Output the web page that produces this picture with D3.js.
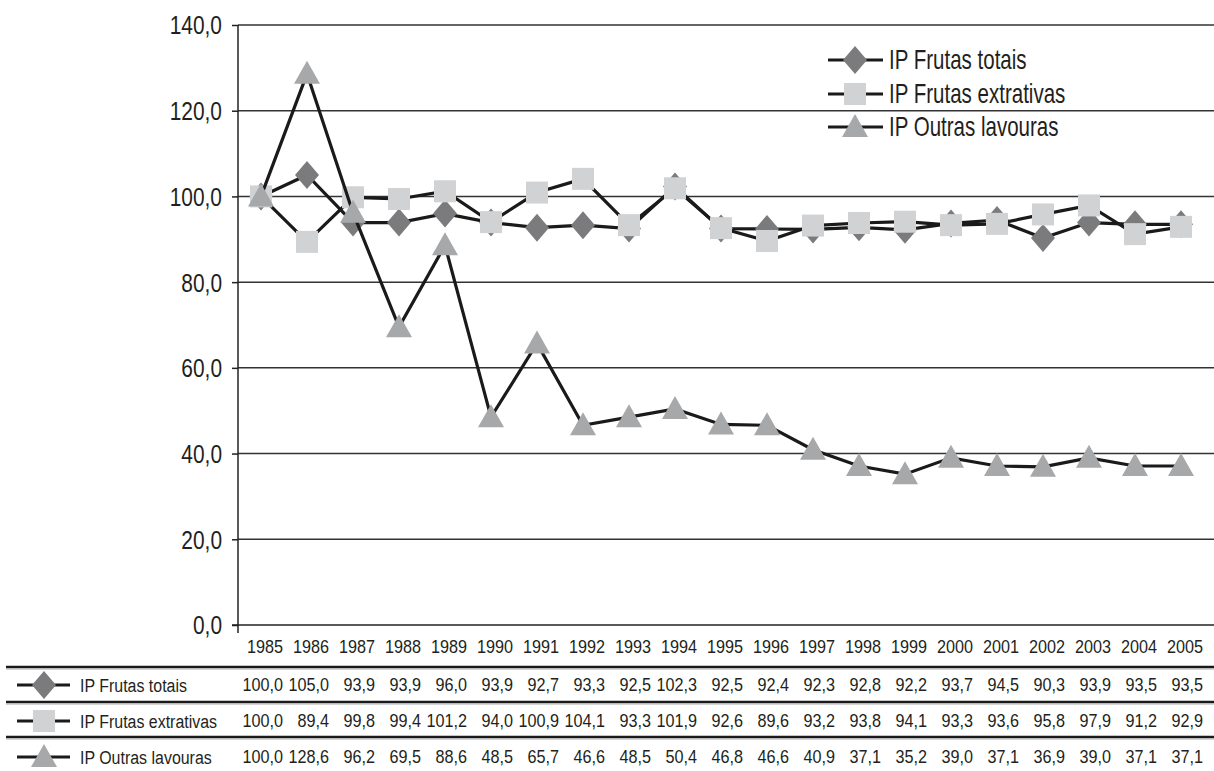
<!DOCTYPE html>
<html>
<head>
<meta charset="utf-8">
<script src="https://cdn.jsdelivr.net/npm/d3@7"></script>
<style>
  body { margin: 0; background: #fff; }
  svg text { font-family: "Liberation Sans", Arial, sans-serif; fill: #231f20; }
</style>
</head>
<body>
<div id="canvas"></div>
<script>
// data
var years = ['1985','1986','1987','1988','1989','1990','1991','1992','1993','1994','1995',
             '1996','1997','1998','1999','2000','2001','2002','2003','2004','2005'];
var frutasTotais = [100.0,105.0,93.9,93.9,96.0,93.9,92.7,93.3,92.5,102.3,92.5,92.4,92.3,92.8,92.2,93.7,94.5,90.3,93.9,93.5,93.5];
var frutasExtrativas = [100.0,89.4,99.8,99.4,101.2,94.0,100.9,104.1,93.3,101.9,92.6,89.6,93.2,93.8,94.1,93.3,93.6,95.8,97.9,91.2,92.9];
var outrasLavouras = [100.0,128.6,96.2,69.5,88.6,48.5,65.7,46.6,48.5,50.4,46.8,46.6,40.9,37.1,35.2,39.0,37.1,36.9,39.0,37.1,37.1];
var seriesNames = ['IP Frutas totais','IP Frutas extrativas','IP Outras lavouras'];
var yTicks = [0,20,40,60,80,100,120,140];

var series = [
  {name: seriesNames[0], values: frutasTotais, shape: 'diamond', color: '#7b7b7d'},
  {name: seriesNames[1], values: frutasExtrativas, shape: 'square', color: '#d1d2d4'},
  {name: seriesNames[2], values: outrasLavouras, shape: 'triangle', color: '#a7a8aa'}
];

var W = 1214, H = 771;
var m = {t:25, l:238, r:10, b:146};

var svg = d3.select('#canvas').append('svg')
    .attr('width', W).attr('height', H);

var x = d3.scaleBand().domain(years).range([m.l, W - m.r]).padding(0);
var y = d3.scaleLinear().domain([0,140]).range([H - m.b, m.t]);

var fmt = function(v){ return d3.format('.1f')(v).replace('.', ','); };

// condensed text helper (squeezed horizontally by k)
function label(g, tx, ty, str, size, k, anchor){
  return g.append('text')
    .attr('transform', 'translate(' + tx + ',' + ty + ') scale(' + k + ',1)')
    .attr('dy', '0.35em')
    .attr('text-anchor', anchor || 'start')
    .attr('font-size', size)
    .text(str);
}

// gridlines
svg.append('g').selectAll('line').data(yTicks.filter(function(d){return d>0;}))
  .enter().append('line')
  .attr('x1', m.l).attr('x2', W)
  .attr('y1', function(d){return y(d);}).attr('y2', function(d){return y(d);})
  .attr('stroke', '#333').attr('stroke-width', 1.5);

// y axis
var axisY = d3.axisLeft(y).tickValues(yTicks).tickSize(6).tickFormat(fmt);
var gy = svg.append('g').attr('transform', 'translate(' + m.l + ',0)').call(axisY);
gy.select('.domain').attr('stroke', '#222').attr('stroke-width', 1.5)
  .attr('d', 'M0,' + m.t + 'V' + (y(0) + 8));
gy.selectAll('.tick line').attr('stroke', '#222').attr('stroke-width', 1.5);
gy.selectAll('.tick text')
  .attr('x', null).attr('dy', '0.35em')
  .attr('transform', 'translate(-16,0) scale(0.82,1)')
  .attr('font-size', 25.5)
  .style('font-family', '"Liberation Sans", Arial, sans-serif')
  .style('fill', '#231f20');

// x axis base line
svg.append('line').attr('x1', m.l - 6).attr('x2', W)
  .attr('y1', y(0)).attr('y2', y(0)).attr('stroke', '#222').attr('stroke-width', 1.5);

// year labels
var gYears = svg.append('g');
years.forEach(function(d){
  label(gYears, x(d) + x.bandwidth()/2 + 4, 647, d, 18, 0.9, 'middle');
});

function marker(g, shape, color, cx, cy){
  if (shape === 'diamond') {
    g.append('path').attr('d', 'M' + cx + ',' + (cy-14) + 'L' + (cx+12) + ',' + cy + 'L' + cx + ',' + (cy+14) + 'L' + (cx-12) + ',' + cy + 'Z')
      .attr('fill', color);
  } else if (shape === 'square') {
    g.append('rect').attr('x', cx-11).attr('y', cy-11).attr('width', 22).attr('height', 22)
      .attr('fill', color);
  } else {
    g.append('path').attr('d', 'M' + cx + ',' + (cy-13) + 'L' + (cx+13) + ',' + (cy+10) + 'L' + (cx-13) + ',' + (cy+10) + 'Z')
      .attr('fill', color);
  }
}

var line = d3.line()
  .x(function(d,i){ return x(years[i]) + x.bandwidth()/2; })
  .y(function(d){ return y(d); });

// series: line then markers, one series at a time
series.forEach(function(s){
  var g = svg.append('g');
  g.append('path').datum(s.values).attr('d', line)
    .attr('fill', 'none').attr('stroke', '#1a1a1a').attr('stroke-width', 3.2)
    .attr('stroke-linejoin', 'miter');
  s.values.forEach(function(v, i){
    marker(g, s.shape, s.color, x(years[i]) + x.bandwidth()/2, y(v));
  });
});

// legend in the plot
var legendY = [60, 94, 127];
series.forEach(function(s, i){
  var g = svg.append('g');
  g.append('line').attr('x1', 828).attr('x2', 883).attr('y1', legendY[i]).attr('y2', legendY[i])
    .attr('stroke', '#1a1a1a').attr('stroke-width', 3.2);
  marker(g, s.shape, s.color, 855, legendY[i]);
  label(g, 889, legendY[i], s.name, 27, 0.76);
});

// data table
var sepY = [667, 702, 737];
var rowY = [685, 721, 757];
sepY.forEach(function(sy){
  svg.append('line').attr('x1', 6).attr('x2', W).attr('y1', sy).attr('y2', sy)
    .attr('stroke', '#1a1a1a').attr('stroke-width', 2.5);
  svg.append('line').attr('x1', 6).attr('x2', W).attr('y1', sy + 2).attr('y2', sy + 2)
    .attr('stroke', '#aaa').attr('stroke-width', 1);
});
series.forEach(function(s, i){
  var g = svg.append('g');
  g.append('line').attr('x1', 17).attr('x2', 70).attr('y1', rowY[i]).attr('y2', rowY[i])
    .attr('stroke', '#1a1a1a').attr('stroke-width', 3.2);
  marker(g, s.shape, s.color, 44, rowY[i]);
  label(g, 80, rowY[i], s.name, 19, 0.84);
  s.values.forEach(function(v, j){
    label(g, x(years[j]) + x.bandwidth()/2 + 22, rowY[i], fmt(v), 18, 0.9, 'end');
  });
});
</script>
</body>
</html>
